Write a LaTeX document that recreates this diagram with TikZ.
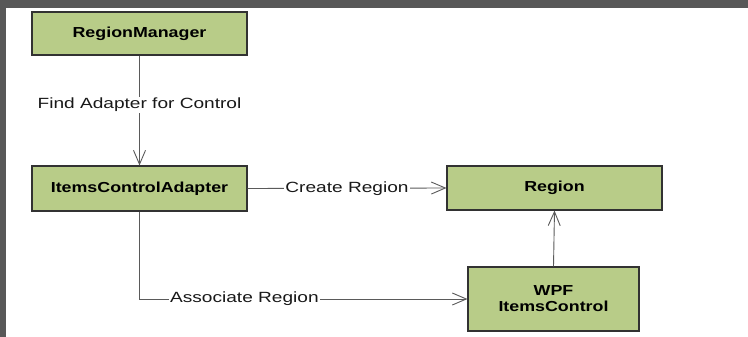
\documentclass[tikz,border=0pt]{standalone}
\usepackage{graphicx}
\usepackage{fontspec}
\setmainfont{Liberation Sans}
\usetikzlibrary{arrows.meta}
\definecolor{boxfill}{RGB}{184,204,136}
\definecolor{boxline}{RGB}{50,50,50}
\definecolor{wireline}{RGB}{90,90,90}
\definecolor{framegray}{RGB}{88,88,88}
\newcommand\wide[1]{\scalebox{1.23}[1]{#1}}
\newcommand\wider[1]{\scalebox{1.29}[1]{#1}}
\tikzset{
  classbox/.style={draw=boxline, fill=boxfill, line width=1.1pt, inner sep=0pt,
    font=\fontsize{14.5}{17}\selectfont\bfseries, align=center},
  wire/.style={draw=wireline, line width=0.9pt,
    -{Straight Barb[length=14pt, width=12pt, line width=0.9pt]}},
  wirelabel/.style={fill=white, inner sep=1pt, font=\fontsize{14.8}{17}\selectfont, text=black!90}
}
\begin{document}
\begin{tikzpicture}[x=1pt, y=-1pt]
  \useasboundingbox (0,0) rectangle (748,337);
  \fill[white] (0,0) rectangle (748,337);
  % dark frame along top and left
  \fill[framegray] (0,0) rectangle (748,8);
  \fill[framegray] (0,0) rectangle (6,337);

  \node[classbox, minimum width=215pt, minimum height=43pt] (rm)  at (139.5,33.5)  {\wide{RegionManager}};
  \node[classbox, minimum width=215pt, minimum height=45pt] (ica) at (139.5,188.5) {\wide{ItemsControlAdapter}};
  \node[classbox, minimum width=215pt, minimum height=44pt] (reg) at (554.5,188)   {\wide{Region}};
  \node[classbox, minimum width=171pt, minimum height=64pt] (wpf) at (553.5,299)   {\wide{WPF}\\[-1pt]\wide{ItemsControl}};

  \draw[wire] (rm.south) -- node[wirelabel, pos=0.45] {\wider{Find Adapter for Control}} (ica.north);
  \draw[wire] (ica.east) -- node[wirelabel, pos=0.5] {\wider{Create Region}} (reg.west);
  \draw[wire] (wpf.north) -- (reg.south);
  \draw[wire] (ica.south) |- node[wirelabel, pos=0.66] {\wider{Associate Region}} (wpf.west);
\end{tikzpicture}
\end{document}
